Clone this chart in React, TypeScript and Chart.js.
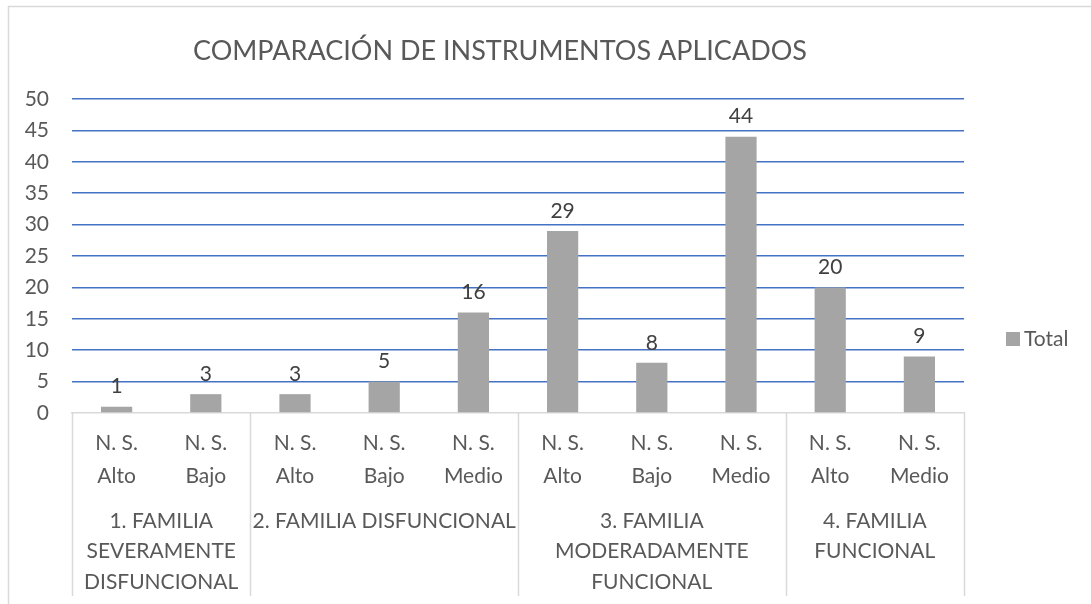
import React, { useEffect, useRef } from "react";
import { Chart, registerables } from "chart.js";

Chart.register(...registerables);

const chartTitle = "COMPARACIÓN DE INSTRUMENTOS APLICADOS";
const seriesName = "Total";
const subCategories = [
  ["N. S.", "Alto"],
  ["N. S.", "Bajo"],
  ["N. S.", "Alto"],
  ["N. S.", "Bajo"],
  ["N. S.", "Medio"],
  ["N. S.", "Alto"],
  ["N. S.", "Bajo"],
  ["N. S.", "Medio"],
  ["N. S.", "Alto"],
  ["N. S.", "Medio"],
];
const totals = [1, 3, 3, 5, 16, 29, 8, 44, 20, 9];
const groupLabels = [
  ["1. FAMILIA", "SEVERAMENTE", "DISFUNCIONAL"],
  ["2. FAMILIA DISFUNCIONAL"],
  ["3. FAMILIA", "MODERADAMENTE", "FUNCIONAL"],
  ["4. FAMILIA", "FUNCIONAL"],
];
const groupSizes = [2, 3, 3, 2];
const yMin = 0;
const yMax = 50;
const yStep = 5;

const FONT = "Lato, 'Open Sans', sans-serif";
const TEXT = "#595959";
const BAR = "#A5A5A5";
const GRID = "#4472C4";
const LIGHT = "#D9D9D9";

const decorPlugin = {
  id: "decor",
  beforeDraw(chart: any) {
    const { ctx } = chart;
    ctx.save();
    ctx.fillStyle = "#ffffff";
    ctx.fillRect(0, 0, chart.width, chart.height);
    ctx.strokeStyle = LIGHT;
    ctx.lineWidth = 1.5;
    ctx.beginPath();
    ctx.moveTo(8.5, chart.height);
    ctx.lineTo(8.5, 6.5);
    ctx.lineTo(chart.width, 6.5);
    ctx.stroke();
    ctx.restore();
  },
  afterDraw(chart: any) {
    const { ctx, chartArea } = chart;
    const x = chart.scales.x;
    const y = chart.scales.y;
    ctx.save();
    // title
    ctx.fillStyle = TEXT;
    ctx.font = `27px ${FONT}`;
    ctx.textAlign = "center";
    ctx.textBaseline = "middle";
    ctx.fillText(chartTitle, 500, 51);

    // data labels
    ctx.font = `21px ${FONT}`;
    ctx.fillStyle = "#404040";
    const meta = chart.getDatasetMeta(0);
    meta.data.forEach((bar: any, i: number) => {
      ctx.fillText(String(totals[i]), bar.x, y.getPixelForValue(totals[i]) - 20);
    });

    // group separators and labels
    ctx.strokeStyle = LIGHT;
    ctx.lineWidth = 1.5;
    const top = chartArea.bottom;
    const bottom = 596;
    let start = 0;
    const bounds: number[] = [x.getPixelForValue(-0.5)];
    groupSizes.forEach((n) => {
      start += n;
      bounds.push(x.getPixelForValue(start - 0.5));
    });
    bounds.forEach((bx) => {
      ctx.beginPath();
      ctx.moveTo(Math.round(bx) + 0.5, top);
      ctx.lineTo(Math.round(bx) + 0.5, bottom);
      ctx.stroke();
    });
    ctx.fillStyle = TEXT;
    ctx.font = `21px ${FONT}`;
    groupLabels.forEach((lines, gi) => {
      const cx = (bounds[gi] + bounds[gi + 1]) / 2;
      lines.forEach((ln, li) => {
        ctx.fillText(ln, cx, 521 + li * 30.5);
      });
    });

    // legend
    const lx = chartArea.right + 42;
    const ly = 339;
    ctx.fillStyle = BAR;
    ctx.fillRect(lx, ly - 7, 14, 14);
    ctx.fillStyle = TEXT;
    ctx.textAlign = "left";
    ctx.fillText(seriesName, lx + 18, ly);
    ctx.restore();
  },
};

export default function App() {
  const ref = useRef<HTMLCanvasElement>(null);
  useEffect(() => {
    if (!ref.current) return;
    const chart = new Chart(ref.current, {
      type: "bar",
      data: {
        labels: subCategories,
        datasets: [
          {
            label: seriesName,
            data: totals,
            backgroundColor: BAR,
            barPercentage: 0.35,
            categoryPercentage: 1,
          },
        ],
      },
      options: {
        responsive: false,
        animation: false,
        layout: { padding: { top: 99, right: 127, bottom: 0, left: 0 } },
        plugins: {
          legend: { display: false },
          title: { display: false },
          tooltip: { enabled: false },
        },
        scales: {
          x: {
            grid: { display: false, drawTicks: false },
            border: { display: true, color: LIGHT, width: 1.5 },
            ticks: {
              color: TEXT,
              font: { family: FONT, size: 21, lineHeight: 1.6 },
              padding: 13,
              maxRotation: 0,
              autoSkip: false,
            },
            afterFit(scale: any) {
              scale.height = 191;
            },
          },
          y: {
            min: yMin,
            max: yMax,
            border: { display: false },
            grid: {
              drawTicks: false,
              color: (c: any) => (c.tick && c.tick.value === 0 ? "rgba(0,0,0,0)" : GRID),
              lineWidth: 1.5,
            },
            ticks: {
              stepSize: yStep,
              color: TEXT,
              font: { family: FONT, size: 21 },
              padding: 23,
            },
            afterFit(scale: any) {
              scale.width = 72;
            },
          },
        },
      },
      plugins: [decorPlugin],
    });
    return () => chart.destroy();
  }, []);
  return (
    <canvas
      ref={ref}
      width={1091}
      height={604}
      style={{ position: "fixed", left: 0, top: 0, width: 1091, height: 604 }}
    />
  );
}
